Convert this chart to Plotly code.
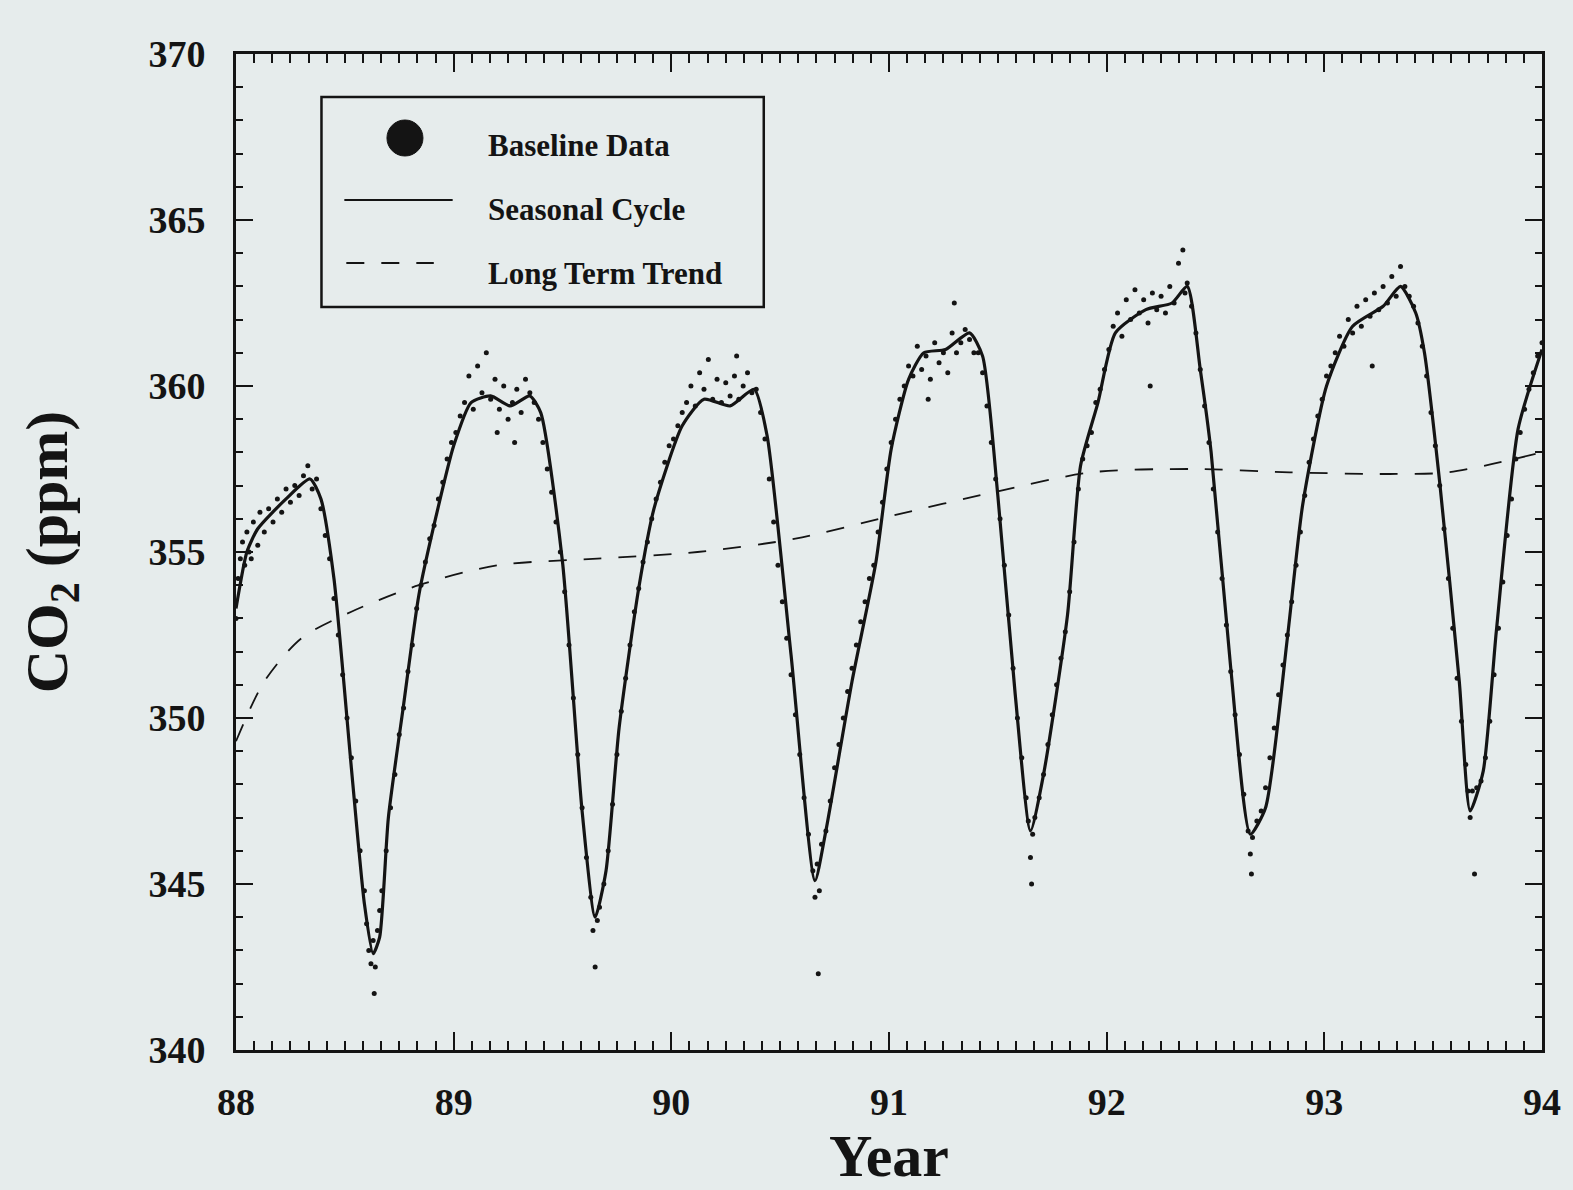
import plotly.graph_objects as go

# ---------------- data ----------------
year_ticks = [88, 89, 90, 91, 92, 93, 94]
co2_ticks = [340, 345, 350, 355, 360, 365, 370]

season_t = [88.00, 88.05, 88.10, 88.23, 88.34, 88.39, 88.45, 88.53, 88.59, 88.63, 88.66, 88.70,
            88.77, 88.84, 88.92, 89.00, 89.08, 89.17, 89.26, 89.35, 89.40, 89.50, 89.59, 89.65,
            89.70, 89.76, 89.85, 89.92, 90.05, 90.15, 90.27, 90.38, 90.44, 90.55, 90.66, 90.71,
            90.83, 90.94, 91.01, 91.09, 91.16, 91.26, 91.37, 91.43, 91.50, 91.58, 91.65, 91.71,
            91.82, 91.88, 91.96, 92.04, 92.18, 92.30, 92.37, 92.43, 92.48, 92.57, 92.66, 92.73,
            92.83, 92.90, 93.01, 93.13, 93.27, 93.35, 93.42, 93.46, 93.53, 93.62, 93.67, 93.73,
            93.79, 93.89, 94.00]
season_v = [353.3, 355.0, 355.7, 356.6, 357.2, 356.6, 354.2, 348.5, 344.4, 342.9, 343.4, 347.0,
            350.4, 353.7, 356.1, 358.2, 359.5, 359.7, 359.4, 359.7, 359.2, 354.7, 347.2, 344.0,
            345.4, 349.7, 353.9, 356.3, 358.8, 359.6, 359.4, 359.9, 358.5, 351.9, 345.1, 346.6,
            351.1, 354.7, 358.1, 360.2, 361.0, 361.1, 361.6, 360.9, 356.7, 350.7, 346.6, 348.3,
            353.1, 357.6, 359.5, 361.6, 362.3, 362.5, 363.0, 360.5, 358.0, 351.5, 346.5, 347.3,
            352.4, 356.4, 360.0, 361.8, 362.4, 363.0, 362.2, 361.0, 357.1, 351.1, 347.2, 348.4,
            352.6, 358.7, 361.1]

trend_t = [88.00, 88.13, 88.30, 88.53, 88.84, 89.20, 89.66, 90.12, 90.57, 91.02, 91.48, 91.93,
           92.39, 92.84, 93.30, 93.57, 94.00]
trend_v = [349.3, 351.1, 352.4, 353.2, 354.0, 354.6, 354.8, 355.0, 355.4, 356.1, 356.8, 357.4,
           357.5, 357.4, 357.35, 357.4, 358.0]

baseline_88 = [(88.00, 353.0), (88.01, 354.2), (88.02, 354.8), (88.03, 355.3), (88.04, 354.6), (88.05, 355.6),
               (88.06, 355.0), (88.07, 354.8), (88.08, 355.9), (88.10, 355.2), (88.11, 356.2), (88.13, 355.6),
               (88.15, 356.3), (88.17, 355.9), (88.19, 356.6), (88.21, 356.2), (88.23, 356.9), (88.25, 356.5),
               (88.27, 357.0), (88.29, 356.7), (88.31, 357.3), (88.33, 357.6), (88.35, 356.9), (88.37, 357.2),
               (88.39, 356.3), (88.41, 355.5), (88.43, 354.8), (88.45, 353.6), (88.47, 352.5), (88.49, 351.3),
               (88.51, 350.0), (88.53, 348.8), (88.55, 347.5), (88.57, 346.0), (88.59, 344.8), (88.60, 343.8),
               (88.61, 343.0), (88.62, 342.6), (88.63, 343.3), (88.635, 341.7), (88.64, 342.5), (88.65, 343.6),
               (88.66, 344.2), (88.67, 344.8), (88.69, 346.0), (88.71, 347.3), (88.73, 348.3), (88.75, 349.5),
               (88.77, 350.3), (88.79, 351.4), (88.81, 352.2), (88.83, 353.3), (88.85, 354.0), (88.87, 354.7),
               (88.89, 355.4), (88.91, 355.8), (88.93, 356.6), (88.95, 357.1), (88.97, 357.8), (88.99, 358.3)]
baseline_89 = [(89.01, 358.6), (89.03, 359.1), (89.05, 359.5), (89.07, 360.3), (89.09, 359.3), (89.11, 360.6),
               (89.13, 359.8), (89.15, 361.0), (89.17, 359.6), (89.19, 360.2), (89.20, 358.6), (89.21, 359.3),
               (89.23, 360.0), (89.25, 359.0), (89.27, 359.5), (89.28, 358.3), (89.29, 359.9), (89.31, 359.2),
               (89.33, 360.2), (89.35, 359.8), (89.37, 359.5), (89.39, 359.0), (89.41, 358.3), (89.43, 357.5),
               (89.45, 356.8), (89.47, 355.9), (89.49, 355.0), (89.51, 353.8), (89.53, 352.2), (89.55, 350.6),
               (89.57, 348.9), (89.59, 347.3), (89.61, 345.8), (89.63, 344.6), (89.64, 343.6), (89.65, 342.5),
               (89.66, 343.9), (89.67, 344.3), (89.69, 345.0), (89.71, 346.0), (89.73, 347.4), (89.75, 348.9),
               (89.77, 350.2), (89.79, 351.2), (89.81, 352.2), (89.83, 353.2), (89.85, 353.9), (89.87, 354.7),
               (89.89, 355.3), (89.91, 356.0), (89.93, 356.6), (89.95, 357.1), (89.97, 357.7), (89.99, 358.2)]
baseline_90 = [(90.01, 358.4), (90.03, 358.8), (90.05, 359.2), (90.07, 359.5), (90.09, 360.0), (90.11, 359.4),
               (90.13, 360.4), (90.15, 359.9), (90.17, 360.8), (90.19, 359.6), (90.21, 360.2), (90.23, 359.5),
               (90.25, 360.1), (90.27, 359.7), (90.29, 360.3), (90.30, 360.9), (90.31, 359.6), (90.33, 360.0),
               (90.35, 360.4), (90.37, 359.8), (90.39, 359.9), (90.41, 359.2), (90.43, 358.4), (90.45, 357.2),
               (90.47, 355.9), (90.49, 354.6), (90.51, 353.5), (90.53, 352.4), (90.55, 351.3), (90.57, 350.1),
               (90.59, 348.9), (90.61, 347.6), (90.63, 346.5), (90.65, 345.4), (90.66, 344.6), (90.67, 345.6),
               (90.675, 342.3), (90.68, 344.8), (90.69, 346.2), (90.71, 346.6), (90.73, 347.5), (90.75, 348.5),
               (90.77, 349.2), (90.79, 350.0), (90.81, 350.8), (90.83, 351.5), (90.85, 352.2), (90.87, 352.9),
               (90.89, 353.5), (90.91, 354.2), (90.93, 354.6), (90.95, 355.6), (90.97, 356.5), (90.99, 357.5)]
baseline_91 = [(91.01, 358.3), (91.03, 359.0), (91.05, 359.6), (91.07, 360.0), (91.09, 360.6), (91.11, 360.3),
               (91.13, 361.2), (91.15, 360.5), (91.17, 360.9), (91.18, 359.6), (91.19, 360.2), (91.21, 361.3),
               (91.23, 360.7), (91.25, 361.0), (91.27, 360.4), (91.29, 361.6), (91.30, 362.5), (91.31, 361.0),
               (91.33, 361.3), (91.35, 361.7), (91.37, 361.4), (91.39, 361.0), (91.41, 361.0), (91.43, 360.4),
               (91.45, 359.4), (91.47, 358.3), (91.49, 357.2), (91.51, 356.0), (91.53, 354.6), (91.55, 353.1),
               (91.57, 351.5), (91.59, 350.0), (91.61, 348.8), (91.63, 347.6), (91.64, 346.9), (91.65, 345.8),
               (91.655, 345.0), (91.66, 346.5), (91.67, 347.0), (91.69, 347.6), (91.71, 348.3), (91.73, 349.2),
               (91.75, 350.1), (91.77, 351.0), (91.79, 351.8), (91.81, 352.6), (91.83, 353.8), (91.85, 355.3),
               (91.87, 356.9), (91.89, 357.8), (91.91, 358.2), (91.93, 358.6), (91.95, 359.5), (91.97, 359.9),
               (91.99, 360.5)]
baseline_92 = [(92.01, 361.1), (92.03, 361.8), (92.05, 362.2), (92.07, 361.5), (92.09, 362.6), (92.11, 362.0),
               (92.13, 362.9), (92.15, 362.2), (92.17, 362.6), (92.19, 361.9), (92.20, 360.0), (92.21, 362.8),
               (92.23, 362.3), (92.25, 362.7), (92.27, 362.2), (92.29, 363.0), (92.31, 362.5), (92.33, 363.7),
               (92.35, 364.1), (92.36, 362.8), (92.37, 363.1), (92.39, 362.4), (92.41, 361.6), (92.43, 360.5),
               (92.45, 359.4), (92.47, 358.3), (92.49, 356.9), (92.51, 355.6), (92.53, 354.2), (92.55, 352.8),
               (92.57, 351.4), (92.59, 350.1), (92.61, 348.9), (92.63, 347.7), (92.65, 346.6), (92.66, 345.9),
               (92.665, 345.3), (92.67, 346.4), (92.69, 346.9), (92.71, 347.2), (92.73, 347.9), (92.75, 348.8),
               (92.77, 349.7), (92.79, 350.7), (92.81, 351.6), (92.83, 352.5), (92.85, 353.5), (92.87, 354.6),
               (92.89, 355.6), (92.91, 356.7), (92.93, 357.7), (92.95, 358.4), (92.97, 359.1), (92.99, 359.6)]
baseline_93 = [(93.01, 360.3), (93.03, 360.6), (93.05, 361.0), (93.07, 361.5), (93.09, 361.2), (93.11, 362.0),
               (93.13, 361.6), (93.15, 362.4), (93.17, 361.8), (93.19, 362.6), (93.21, 362.1), (93.22, 360.6),
               (93.23, 362.8), (93.25, 362.3), (93.27, 363.0), (93.29, 362.5), (93.31, 363.3), (93.33, 362.7),
               (93.35, 363.6), (93.37, 363.0), (93.39, 362.7), (93.41, 362.4), (93.43, 361.9), (93.45, 361.2),
               (93.47, 360.3), (93.49, 359.2), (93.51, 358.2), (93.53, 357.0), (93.55, 355.7), (93.57, 354.2),
               (93.59, 352.7), (93.61, 351.2), (93.63, 349.9), (93.65, 348.6), (93.66, 347.8), (93.67, 347.0),
               (93.68, 347.8), (93.69, 345.3), (93.70, 347.9), (93.72, 348.1), (93.74, 348.8), (93.76, 349.9),
               (93.78, 351.3), (93.80, 352.7), (93.82, 354.1), (93.84, 355.5), (93.86, 356.6), (93.88, 357.8),
               (93.90, 358.6), (93.92, 359.3), (93.94, 359.9), (93.96, 360.4), (93.98, 360.9), (94.00, 361.3)]

legend_labels = ["Baseline Data", "Seasonal Cycle", "Long Term Trend"]

# ---------------- styling ----------------
BG = "#e6ecec"
INK = "#141414"
SERIF = "Liberation Serif"

baseline = baseline_88 + baseline_89 + baseline_90 + baseline_91 + baseline_92 + baseline_93
base_t = [p[0] for p in baseline]
base_v = [p[1] for p in baseline]

fig = go.Figure()
fig.add_trace(go.Scatter(x=base_t, y=base_v, mode="markers", name=legend_labels[0],
                         marker=dict(color=INK, size=5, line=dict(width=0)), showlegend=False))
fig.add_trace(go.Scatter(x=season_t, y=season_v, mode="lines", name=legend_labels[1],
                         line=dict(color=INK, width=3.2, shape="spline", smoothing=0.6),
                         showlegend=False))
fig.add_trace(go.Scatter(x=trend_t, y=trend_v, mode="lines", name=legend_labels[2],
                         line=dict(color=INK, width=1.8, dash="18px,17px", shape="spline", smoothing=0.8),
                         showlegend=False))

L, R, T, B = 236, 23, 54, 140
W, H = 1573, 1190
pw, ph = W - L - R, H - T - B


def px(x):
    return (x - L) / pw


def py(y):
    return 1 - (y - T) / ph


tickfont = dict(family=SERIF, size=38, color=INK, weight="bold")
axis_common = dict(showline=True, linecolor=INK, linewidth=3, mirror="ticks", ticks="inside",
                   tickcolor=INK, tickwidth=2, showgrid=False, zeroline=False, tickfont=tickfont)

fig.update_layout(
    width=W, height=H,
    paper_bgcolor=BG, plot_bgcolor=BG,
    margin=dict(l=L, r=R, t=T, b=B, pad=0),
    showlegend=False,
    xaxis=dict(range=[year_ticks[0], year_ticks[-1]], tickmode="array", tickvals=year_ticks,
               ticktext=[str(v) for v in year_ticks], ticklen=18, ticklabelstandoff=16,
               minor=dict(tickmode="linear", tick0=88, dtick=1 / 12, ticks="inside", ticklen=9,
                          tickwidth=2, tickcolor=INK),
               title=dict(text="Year", font=dict(family=SERIF, size=60, color=INK, weight="bold"),
                          standoff=6),
               **axis_common),
    yaxis=dict(range=[co2_ticks[0], co2_ticks[-1]], tickmode="array", tickvals=co2_ticks,
               ticktext=[str(v) for v in co2_ticks], ticklen=17, ticklabelstandoff=20,
               minor=dict(tickmode="linear", tick0=340, dtick=1, ticks="inside", ticklen=7,
                          tickwidth=2, tickcolor=INK),
               title=dict(text="CO<sub>2</sub> (ppm)",
                          font=dict(family=SERIF, size=60, color=INK, weight="bold"), standoff=62),
               **axis_common),
)

# ---------------- hand-drawn style legend ----------------
fig.add_shape(type="rect", xref="paper", yref="paper", x0=px(322), x1=px(767), y0=py(307), y1=py(97),
              line=dict(color=INK, width=2.5), fillcolor=BG, layer="above")
fig.add_shape(type="circle", xref="paper", yref="paper", xsizemode="pixel", ysizemode="pixel",
              xanchor=px(406), yanchor=py(138), x0=-18, x1=18, y0=-18, y1=18,
              fillcolor=INK, line=dict(color=INK, width=1), layer="above")
fig.add_shape(type="line", xref="paper", yref="paper", x0=px(345), x1=px(454), y0=py(200), y1=py(200),
              line=dict(color=INK, width=2), layer="above")
fig.add_shape(type="line", xref="paper", yref="paper", x0=px(347), x1=px(435), y0=py(263), y1=py(263),
              line=dict(color=INK, width=2, dash="18px,17px"), layer="above")
for lbl, yy in zip(legend_labels, [145, 210, 273]):
    fig.add_annotation(xref="paper", yref="paper", x=px(488), y=py(yy), text=lbl, showarrow=False,
                       xanchor="left", yanchor="middle",
                       font=dict(family=SERIF, size=31, color=INK, weight="bold"))

fig.write_html("out.html", config={"displayModeBar": False},
               post_script="document.body.style.margin='0px';document.body.style.overflow='hidden';")
